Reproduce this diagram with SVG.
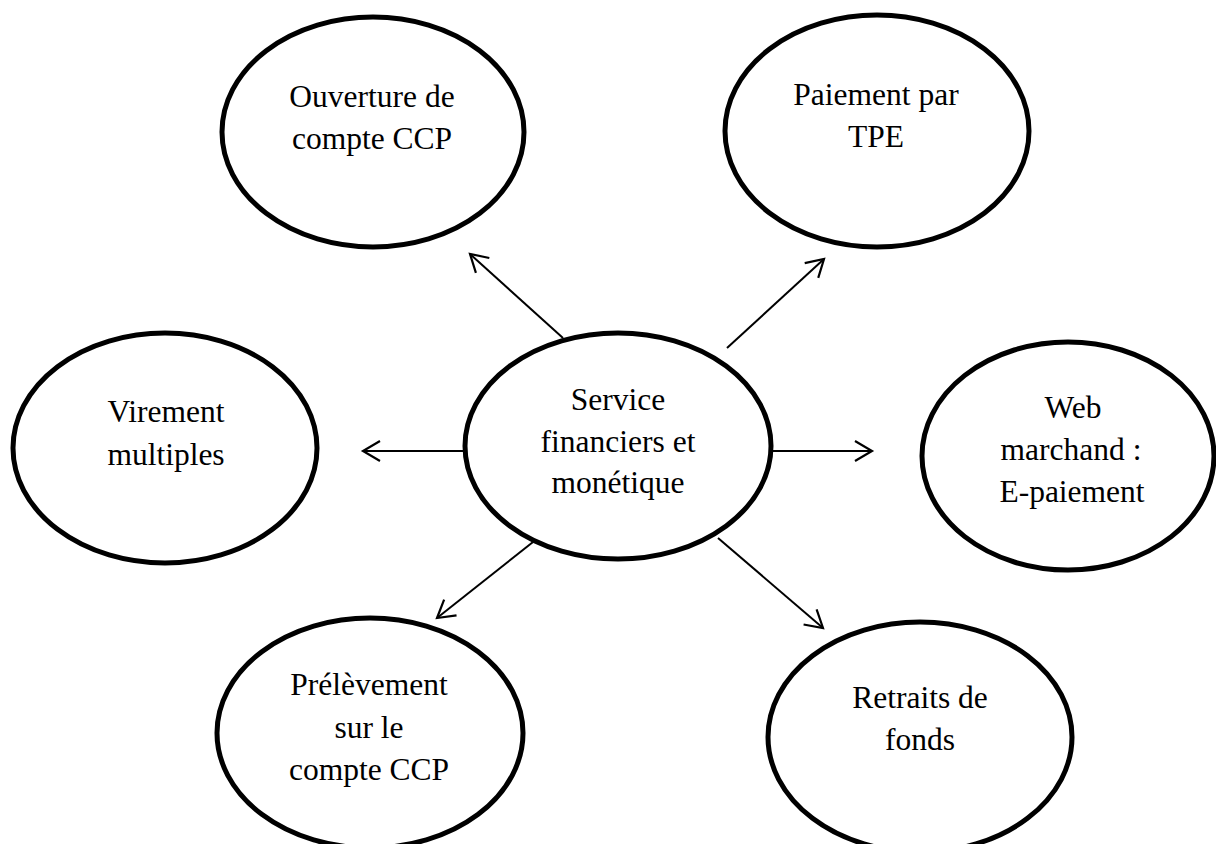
<svg xmlns="http://www.w3.org/2000/svg" width="1216" height="844" viewBox="0 0 1216 844">
<style>
.node ellipse{fill:#fff;stroke:#000;stroke-width:5}
.node text{font-family:"Liberation Serif","Times New Roman",serif;font-size:31.5px;fill:#000;text-anchor:middle}
.conn line{stroke:#000;stroke-width:2;fill:none}
</style>
<defs>
<marker id="arr" markerUnits="userSpaceOnUse" markerWidth="30" markerHeight="30" viewBox="-20 -15 25 30" refX="0" refY="0" orient="auto">
<path d="M-17,-10 L0,0 L-17,10" fill="none" stroke="#000" stroke-width="2.2"/>
</marker>
</defs>
<rect width="1216" height="844" fill="#fff"/>
<g id="connectors" class="conn">
<line x1="563" y1="338" x2="470" y2="254" marker-end="url(#arr)"/>
<line x1="727" y1="348" x2="824" y2="259" marker-end="url(#arr)"/>
<line x1="465" y1="451" x2="363" y2="451" marker-end="url(#arr)"/>
<line x1="772" y1="451" x2="872" y2="451" marker-end="url(#arr)"/>
<line x1="533" y1="542" x2="437" y2="618" marker-end="url(#arr)"/>
<line x1="718" y1="538" x2="823" y2="628" marker-end="url(#arr)"/>
</g>
<g id="n-ouverture" class="node">
<ellipse cx="373" cy="132" rx="151" ry="115"/>
<text x="372" y="107">Ouverture de</text>
<text x="372" y="149">compte CCP</text>
</g>
<g id="n-paiement" class="node">
<ellipse cx="877" cy="131" rx="152" ry="116"/>
<text x="876" y="105">Paiement par</text>
<text x="876" y="147">TPE</text>
</g>
<g id="n-virement" class="node">
<ellipse cx="165" cy="448" rx="152" ry="115"/>
<text x="166" y="422">Virement</text>
<text x="166" y="465">multiples</text>
</g>
<g id="n-service" class="node">
<ellipse cx="618" cy="446" rx="153" ry="113"/>
<text x="618" y="410">Service</text>
<text x="618" y="452">financiers et</text>
<text x="618" y="493">monétique</text>
</g>
<g id="n-web" class="node">
<ellipse cx="1068" cy="456" rx="146" ry="114"/>
<text x="1073" y="418">Web</text>
<text x="1071" y="460">marchand :</text>
<text x="1072" y="502">E-paiement</text>
</g>
<g id="n-prelevement" class="node">
<ellipse cx="370" cy="733" rx="153" ry="115"/>
<text x="369" y="695">Prélèvement</text>
<text x="369" y="738">sur le</text>
<text x="369" y="780">compte CCP</text>
</g>
<g id="n-retraits" class="node">
<ellipse cx="920" cy="737" rx="152" ry="115"/>
<text x="920" y="708">Retraits de</text>
<text x="920" y="750">fonds</text>
</g>
</svg>
